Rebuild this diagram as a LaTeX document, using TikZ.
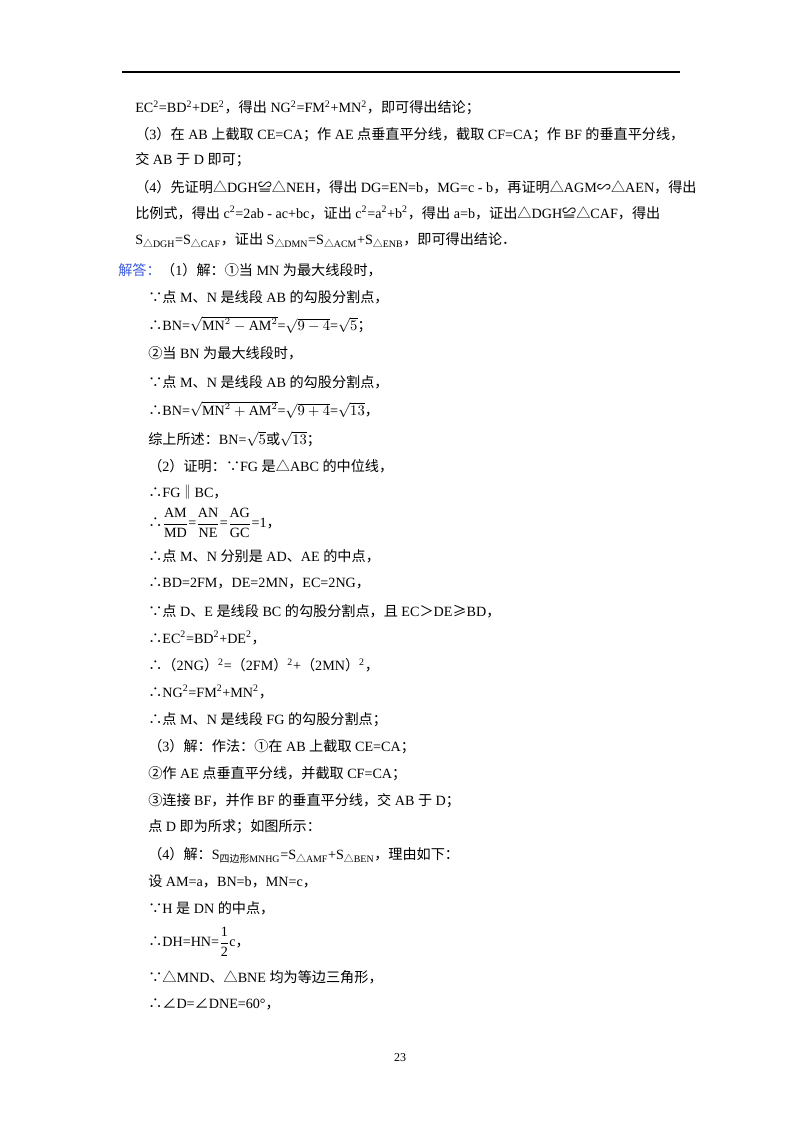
\documentclass[tikz,border=0pt]{standalone}
\usepackage{fontspec}
\setmainfont{Liberation Serif}
\newfontfamily\cjk{Noto Sans CJK SC}
\newfontfamily\latf{Liberation Serif}
\XeTeXinterchartokenstate=1
\newXeTeXintercharclass\CJKc
\count255="4E00 \loop \XeTeXcharclass\count255=\CJKc \advance\count255 1 \ifnum\count255<"A000 \repeat
\count255="3000 \loop \XeTeXcharclass\count255=\CJKc \advance\count255 1 \ifnum\count255<"3040 \repeat
\count255="FF00 \loop \XeTeXcharclass\count255=\CJKc \advance\count255 1 \ifnum\count255<"FF60 \repeat
\count255="2460 \loop \XeTeXcharclass\count255=\CJKc \advance\count255 1 \ifnum\count255<"2474 \repeat
\XeTeXcharclass"2234=\CJKc \XeTeXcharclass"2235=\CJKc \XeTeXcharclass"25B3=\CJKc
\XeTeXcharclass"224C=\CJKc \XeTeXcharclass"223D=\CJKc \XeTeXcharclass"2220=\CJKc
\XeTeXcharclass"2265=\CJKc \XeTeXcharclass"2016=\CJKc \XeTeXcharclass"25B5=\CJKc
\XeTeXinterchartoks 0 \CJKc={\cjk}
\XeTeXinterchartoks 4095 \CJKc={\cjk}
\XeTeXinterchartoks \CJKc 0={\latf}
\XeTeXinterchartoks \CJKc 4095={\latf}
\newcommand{\sx}[1]{\textsuperscript{#1}}
\newcommand{\sbx}[1]{\textsubscript{#1}}
\newcommand{\fr}[2]{$\displaystyle\frac{\mathrm{#1}}{\mathrm{#2}}$}
\begin{document}
\begin{tikzpicture}[x=0.75pt,y=-0.75pt,
  ln/.style={anchor=west,inner sep=0pt,font=\fontsize{10.6}{12.5}\selectfont}]
\useasboundingbox (0,0) rectangle (800,1132);
\coordinate (r1) at (122,72); \coordinate (r2) at (680,72);
\draw[line width=0.8pt] (r1) -- (r2);
\node[ln] (a1) at (135,108) {EC\sx{2}=BD\sx{2}+DE\sx{2}，得出 NG\sx{2}=FM\sx{2}+MN\sx{2}，即可得出结论；};
\node[ln] (a2) at (135,135) {（3）在 AB 上截取 CE=CA；作 AE 点垂直平分线，截取 CF=CA；作 BF 的垂直平分线，};
\node[ln] (a3) at (135,160) {交 AB 于 D 即可；};
\node[ln] (a4) at (135,187) {（4）先证明△DGH≌△NEH，得出 DG=EN=b，MG=c - b，再证明△AGM∽△AEN，得出};
\node[ln] (a5) at (135,213) {比例式，得出 c\sx{2}=2ab - ac+bc，证出 c\sx{2}=a\sx{2}+b\sx{2}，得出 a=b，证出△DGH≌△CAF，得出};
\node[ln] (a6) at (135,240) {S\sbx{△DGH}=S\sbx{△CAF}，证出 S\sbx{△DMN}=S\sbx{△ACM}+S\sbx{△ENB}，即可得出结论．};
\node[ln,text={rgb,255:red,60;green,90;blue,220}] (j) at (118,270) {解答：};
\node[ln] (b1) at (j.east) [anchor=west] {（1）解：①当 MN 为最大线段时，};
\node[ln] (b2) at (148,297) {∵点 M、N 是线段 AB 的勾股分割点，};
\node[ln] (b3) at (148,325) {∴BN=$\sqrt{\mathrm{MN}^2-\mathrm{AM}^2}$=$\sqrt{9-4}$=$\sqrt{5}$；};
\node[ln] (b4) at (148,353) {②当 BN 为最大线段时，};
\node[ln] (b5) at (148,382) {∵点 M、N 是线段 AB 的勾股分割点，};
\node[ln] (b6) at (148,410) {∴BN=$\sqrt{\mathrm{MN}^2+\mathrm{AM}^2}$=$\sqrt{9+4}$=$\sqrt{13}$，};
\node[ln] (b7) at (148,439) {综上所述：BN=$\sqrt{5}$或$\sqrt{13}$；};
\node[ln] (c1) at (148,466) {（2）证明：∵FG 是△ABC 的中位线，};
\node[ln] (c2) at (148,492) {∴FG‖BC，};
\node[ln] (c3) at (148,523) {∴\fr{AM}{MD}=\fr{AN}{NE}=\fr{AG}{GC}=1，};
\node[ln] (c4) at (148,556) {∴点 M、N 分别是 AD、AE 的中点，};
\node[ln] (c5) at (148,583) {∴BD=2FM，DE=2MN，EC=2NG，};
\node[ln] (c6) at (148,611) {∵点 D、E 是线段 BC 的勾股分割点，且 EC＞DE≥BD，};
\node[ln] (c7) at (148,638) {∴EC\sx{2}=BD\sx{2}+DE\sx{2}，};
\node[ln] (c8) at (148,665) {∴（2NG）\sx{2}=（2FM）\sx{2}+（2MN）\sx{2}，};
\node[ln] (c9) at (148,692) {∴NG\sx{2}=FM\sx{2}+MN\sx{2}，};
\node[ln] (c10) at (148,720) {∴点 M、N 是线段 FG 的勾股分割点；};
\node[ln] (d1) at (148,747) {（3）解：作法：①在 AB 上截取 CE=CA；};
\node[ln] (d2) at (148,774) {②作 AE 点垂直平分线，并截取 CF=CA；};
\node[ln] (d3) at (148,801) {③连接 BF，并作 BF 的垂直平分线，交 AB 于 D；};
\node[ln] (d4) at (148,827) {点 D 即为所求；如图所示：};
\node[ln] (e1) at (148,855) {（4）解：S\sbx{四边形MNHG}=S\sbx{△AMF}+S\sbx{△BEN}，理由如下：};
\node[ln] (e2) at (148,881) {设 AM=a，BN=b，MN=c，};
\node[ln] (e3) at (148,908) {∵H 是 DN 的中点，};
\node[ln] (e4) at (148,942) {∴DH=HN=\fr{1}{2}c，};
\node[ln] (e5) at (148,977) {∵△MND、△BNE 均为等边三角形，};
\node[ln] (e6) at (148,1004) {∴∠D=∠DNE=60°，};
\node[ln,anchor=center,font=\fontsize{9}{11}\selectfont] (pg) at (400,1058) {23};
\end{tikzpicture}
\end{document}
